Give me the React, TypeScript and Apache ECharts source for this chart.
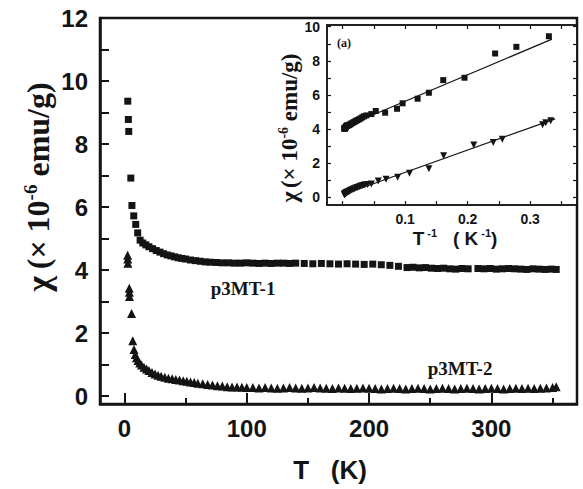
import React, { useEffect, useRef } from "react";
import * as echarts from "echarts";

// ---- Main panel: p3MT-1 (squares) ----
const mainT1 = [
  2.7, 3.2, 3.5, 5.2, 6.1, 7.6, 9.2, 10.8, 12.8, 15,
  17.5, 20, 23, 26, 29, 32, 35, 38, 41, 44,
  47, 50, 54, 58, 62, 66, 70, 75, 80, 85,
  90, 95, 100, 105, 110, 115, 120, 125, 130, 135,
  140, 147, 154, 161, 168, 175, 182, 189, 196, 203,
  210, 217, 224, 231, 236, 241, 246, 251, 256, 261,
  266, 271, 276, 281, 289, 294, 299, 304, 309, 314,
  319, 324, 329, 334, 339, 344, 349, 353,
];
const mainChi1 = [
  9.36, 8.78, 8.4, 6.92, 6.05, 5.72, 5.45, 5.18, 4.95, 4.86,
  4.8, 4.74, 4.68, 4.62, 4.57, 4.52, 4.48, 4.45, 4.42, 4.39,
  4.37, 4.35, 4.32, 4.3, 4.28, 4.26, 4.25, 4.24, 4.23, 4.23,
  4.22, 4.22, 4.23, 4.22, 4.21, 4.22, 4.21, 4.22, 4.22, 4.21,
  4.22, 4.21, 4.2, 4.21, 4.2, 4.19, 4.2, 4.19, 4.18, 4.19,
  4.17, 4.15, 4.12, 4.08, 4.09, 4.07, 4.08, 4.06, 4.05, 4.06,
  4.04, 4.03, 4.05, 4.04, 4.05, 4.04, 4.05, 4.03, 4.04, 4.05,
  4.04, 4.03, 4.02, 4.04, 4.03, 4.02, 4.03, 4.02,
];

// ---- Main panel: p3MT-2 (triangles) ----
const mainT2 = [
  2.6, 2.7, 2.8, 3.9, 4.0, 4.1, 5.8, 6.8, 7.8, 8.8,
  9.8, 11, 12.5, 14, 16, 18, 20, 22.5, 25, 27.5,
  30, 33, 36, 39, 42, 45, 48, 51, 54, 57,
  60, 64, 68, 72, 76, 80, 84, 88, 92, 96,
  100, 105, 110, 115, 120, 125, 130, 135, 140, 145,
  150, 155, 160, 165, 170, 175, 180, 185, 190, 195,
  200, 205, 210, 215, 220, 225, 230, 235, 240, 245,
  250, 255, 260, 265, 270, 275, 280, 285, 290, 295,
  300, 305, 310, 315, 320, 325, 330, 335, 340, 345,
  350, 353,
];
const mainChi2 = [
  4.47, 4.35, 4.22, 3.42, 3.3, 3.16, 2.62, 1.76, 1.48, 1.32,
  1.22, 1.13, 1.05, 0.99, 0.92, 0.86, 0.81, 0.75, 0.7, 0.66,
  0.63, 0.6, 0.57, 0.55, 0.53, 0.51, 0.49, 0.47, 0.45, 0.43,
  0.41, 0.39, 0.37, 0.35, 0.33, 0.32, 0.3, 0.29, 0.29, 0.28,
  0.27, 0.27, 0.26, 0.27, 0.26, 0.25, 0.26, 0.27, 0.26, 0.25,
  0.26, 0.27, 0.26, 0.25, 0.24, 0.26, 0.25, 0.24, 0.25, 0.26,
  0.25, 0.24, 0.23, 0.24, 0.25, 0.24, 0.23, 0.24, 0.25, 0.24,
  0.23, 0.24, 0.25, 0.24, 0.23, 0.24, 0.25, 0.24, 0.23, 0.24,
  0.25, 0.24, 0.23, 0.24, 0.25, 0.24, 0.25, 0.24, 0.25, 0.26,
  0.27, 0.3,
];

// ---- Inset: chi vs 1/T ----
const insetInvT1 = [
  0.0028, 0.003, 0.0032, 0.0034, 0.0036, 0.0039, 0.0042, 0.0045, 0.0049, 0.0053,
  0.0058, 0.0064, 0.0071, 0.008, 0.009, 0.01, 0.011, 0.0125, 0.014, 0.016,
  0.018, 0.02, 0.022, 0.024, 0.0265, 0.029, 0.0315, 0.034, 0.038, 0.046,
  0.053, 0.068, 0.087, 0.096, 0.12, 0.138, 0.161, 0.195, 0.244, 0.278,
  0.33,
];
const insetChi1 = [
  4.02, 4.05, 4.03, 4.06, 4.05, 4.04, 4.08, 4.07, 4.12, 4.15,
  4.18, 4.19, 4.21, 4.22, 4.22, 4.23, 4.25, 4.29, 4.33, 4.37,
  4.41, 4.45, 4.49, 4.53, 4.58, 4.63, 4.69, 4.75, 4.8, 4.88,
  5.06, 4.96, 5.19, 5.51, 5.78, 6.13, 6.87, 7.01, 8.43, 8.82,
  9.44,
];
const insetInvT2 = [
  0.0028, 0.003, 0.0033, 0.0036, 0.004, 0.0044, 0.0049, 0.0054, 0.006, 0.0068,
  0.0076, 0.0086, 0.0096, 0.0108, 0.012, 0.0135, 0.015, 0.0168, 0.0188, 0.021,
  0.0235, 0.0262, 0.029, 0.032, 0.0355, 0.04, 0.046, 0.057, 0.0695, 0.088,
  0.107, 0.138, 0.1616, 0.2098, 0.241, 0.2555, 0.32, 0.325, 0.333,
];
const insetChi2 = [
  0.15, 0.18, 0.17, 0.2, 0.21, 0.22, 0.24, 0.25, 0.27, 0.28,
  0.3, 0.32, 0.33, 0.36, 0.38, 0.41, 0.44, 0.47, 0.5, 0.54,
  0.58, 0.62, 0.66, 0.7, 0.73, 0.75, 0.78, 0.96, 1.06, 1.18,
  1.41, 1.67, 2.43, 3.07, 3.21, 3.4, 4.26, 4.37, 4.49,
];
// linear fits (endpoints)
const fit1X = [0, 0.335];
const fit1Y = [4.08, 9.27];
const fit2X = [0, 0.34];
const fit2Y = [0.15, 4.6];

// ---- ticks / labels ----
const mainXLabels = [0, 100, 200, 300];
const mainXMinor = [50, 150, 250, 350];
const mainYLabels = [0, 2, 4, 6, 8, 10, 12];
const mainYTicks = [0, 1, 2, 3, 4, 5, 6, 7, 8, 9, 10, 11, 12];
const insetXLabels = [0.1, 0.2, 0.3];
const insetXTicks = [0, 0.05, 0.1, 0.15, 0.2, 0.25, 0.3, 0.35];
const insetYLabels = [0, 2, 4, 6, 8, 10];
const insetYTicks = [0, 1, 2, 3, 4, 5, 6, 7, 8, 9, 10];

const INK = "#141414";
const SANS = "Arial, 'Liberation Sans', Helvetica, sans-serif";
const SERIF = "'Times New Roman', 'Liberation Serif', serif";

const zip = (a: number[], b: number[]) => a.map((v, i) => [v, b[i]]);

export default function App() {
  const ref = useRef<HTMLDivElement>(null);
  useEffect(() => {
    if (!ref.current) return;
    const chart = echarts.init(ref.current, null, { renderer: "svg" });
    const tickLabel = (size: number, margin: number, values: number[]) => ({
      customValues: values,
      fontFamily: SANS,
      fontWeight: "bold",
      fontSize: size,
      color: INK,
      margin,
    });
    const line = (w: number) => ({ show: true, onZero: false, lineStyle: { color: INK, width: w } });
    chart.setOption({
      animation: false,
      backgroundColor: "#fff",
      grid: [
        {
          left: 100, top: 18, right: 6, bottom: 85,
          show: true, borderColor: INK, borderWidth: 2.5, backgroundColor: "transparent",
        },
        {
          left: 327, top: 25, right: 6, bottom: 284,
          show: true, borderColor: INK, borderWidth: 1.5, backgroundColor: "#fff",
        },
      ],
      xAxis: [
        {
          gridIndex: 0, type: "value", min: -20, max: 370, position: "bottom",
          axisLine: line(2.5),
          axisTick: { show: true, inside: true, length: 11, customValues: mainXLabels, lineStyle: { color: INK, width: 2 } },
          axisLabel: tickLabel(24, 12, mainXLabels),
          splitLine: { show: false },
        },
        {
          gridIndex: 0, type: "value", min: -20, max: 370, position: "bottom",
          axisLine: { show: false, onZero: false },
          axisTick: { show: true, inside: true, length: 6, customValues: mainXMinor, lineStyle: { color: INK, width: 2 } },
          axisLabel: { show: false },
          splitLine: { show: false },
        },
        {
          gridIndex: 1, type: "value", min: -0.025, max: 0.375, position: "bottom",
          axisLine: line(1.5),
          axisTick: { show: true, inside: true, length: 4, customValues: insetXTicks, lineStyle: { color: INK, width: 1.2 } },
          axisLabel: tickLabel(14, 7, insetXLabels),
          splitLine: { show: false },
        },
        {
          gridIndex: 1, type: "value", min: -0.025, max: 0.375, position: "top",
          axisLine: line(1.5),
          axisTick: { show: true, inside: true, length: 4, customValues: insetXTicks, lineStyle: { color: INK, width: 1.2 } },
          axisLabel: { show: false },
          splitLine: { show: false },
        },
      ],
      yAxis: [
        {
          gridIndex: 0, type: "value", min: -0.25, max: 12, position: "left",
          axisLine: line(2.5),
          axisTick: { show: true, inside: true, length: 9, customValues: mainYTicks, lineStyle: { color: INK, width: 2 } },
          axisLabel: tickLabel(24, 12, mainYLabels),
          splitLine: { show: false },
        },
        {
          gridIndex: 1, type: "value", min: -0.45, max: 10.1, position: "left",
          axisLine: line(1.5),
          axisTick: { show: true, inside: true, length: 4, customValues: insetYTicks, lineStyle: { color: INK, width: 1.2 } },
          axisLabel: tickLabel(14, 7, insetYLabels),
          splitLine: { show: false },
        },
        {
          gridIndex: 1, type: "value", min: -0.45, max: 10.1, position: "right",
          axisLine: line(1.5),
          axisTick: { show: true, inside: true, length: 4, customValues: insetYTicks, lineStyle: { color: INK, width: 1.2 } },
          axisLabel: { show: false },
          splitLine: { show: false },
        },
      ],
      series: [
        {
          type: "scatter", xAxisIndex: 0, yAxisIndex: 0,
          data: zip(mainT1, mainChi1), symbol: "rect", symbolSize: 7,
          itemStyle: { color: INK, opacity: 1 },
        },
        {
          type: "scatter", xAxisIndex: 0, yAxisIndex: 0,
          data: zip(mainT2, mainChi2), symbol: "triangle", symbolSize: 9,
          itemStyle: { color: INK, opacity: 1 },
        },
        {
          type: "line", xAxisIndex: 2, yAxisIndex: 1,
          data: zip(fit1X, fit1Y), symbol: "none",
          lineStyle: { color: INK, width: 1.2 }, z: 3,
        },
        {
          type: "line", xAxisIndex: 2, yAxisIndex: 1,
          data: zip(fit2X, fit2Y), symbol: "none",
          lineStyle: { color: INK, width: 1.2 }, z: 3,
        },
        {
          type: "scatter", xAxisIndex: 2, yAxisIndex: 1,
          data: zip(insetInvT1, insetChi1), symbol: "rect", symbolSize: 6,
          itemStyle: { color: INK, opacity: 1 }, z: 4,
        },
        {
          type: "scatter", xAxisIndex: 2, yAxisIndex: 1,
          data: zip(insetInvT2, insetChi2), symbol: "triangle", symbolRotate: 180, symbolSize: 7,
          itemStyle: { color: INK, opacity: 1 }, z: 4,
        },
      ],
      graphic: [
        {
          type: "text", x: 38, y: 187, rotation: Math.PI / 2,
          style: {
            text: "{c|χ}  {b|(× 10}{s|-6}{b| emu/g)}",
            align: "center", verticalAlign: "middle",
            textAlign: "center", textVerticalAlign: "middle",
            fill: INK,
            rich: {
              c: { fontFamily: SERIF, fontWeight: "bold", fontSize: 34, fill: INK, lineHeight: 34 },
              b: { fontFamily: SERIF, fontWeight: "bold", fontSize: 32, fill: INK, lineHeight: 34 },
              s: { fontFamily: SERIF, fontWeight: "bold", fontSize: 19, fill: INK, lineHeight: 19, verticalAlign: "top" },
            },
          },
        },
        {
          type: "text", x: 330, y: 470,
          style: {
            text: "T   (K)", align: "center", verticalAlign: "middle",
            textAlign: "center", textVerticalAlign: "middle",
            fill: INK, font: `bold 26px ${SANS}`,
          },
        },
        {
          type: "text", x: 289, y: 128, rotation: Math.PI / 2,
          style: {
            text: "{c|χ} {b|(× 10}{s|-6}{b| emu/g)}",
            align: "center", verticalAlign: "middle",
            textAlign: "center", textVerticalAlign: "middle",
            fill: INK,
            rich: {
              c: { fontFamily: SERIF, fontWeight: "bold", fontSize: 24, fill: INK, lineHeight: 25 },
              b: { fontFamily: SERIF, fontWeight: "bold", fontSize: 23, fill: INK, lineHeight: 25 },
              s: { fontFamily: SERIF, fontWeight: "bold", fontSize: 14, fill: INK, lineHeight: 14, verticalAlign: "top" },
            },
          },
        },
        {
          type: "text", x: 455, y: 238,
          style: {
            text: "{b|T}{s| -1}{b|   ( K}{s| -1}{b|)}",
            align: "center", verticalAlign: "middle",
            textAlign: "center", textVerticalAlign: "middle",
            fill: INK,
            rich: {
              b: { fontFamily: SANS, fontWeight: "bold", fontSize: 19, fill: INK, lineHeight: 22 },
              s: { fontFamily: SANS, fontWeight: "bold", fontSize: 11, fill: INK, lineHeight: 11, verticalAlign: "top" },
            },
          },
        },
        {
          type: "text", x: 243, y: 288,
          style: {
            text: "p3MT-1", align: "center", verticalAlign: "middle",
            textAlign: "center", textVerticalAlign: "middle",
            fill: INK, font: `bold 19px ${SERIF}`,
          },
        },
        {
          type: "text", x: 460, y: 368,
          style: {
            text: "p3MT-2", align: "center", verticalAlign: "middle",
            textAlign: "center", textVerticalAlign: "middle",
            fill: INK, font: `bold 19px ${SERIF}`,
          },
        },
        {
          type: "text", x: 344, y: 43,
          style: {
            text: "(a)", align: "center", verticalAlign: "middle",
            textAlign: "center", textVerticalAlign: "middle",
            fill: INK, font: `bold 12px ${SERIF}`,
          },
        },
      ],
    });
    return () => chart.dispose();
  }, []);
  return (
    <div
      ref={ref}
      style={{ position: "fixed", left: 0, top: 0, width: 583, height: 489 }}
    />
  );
}
